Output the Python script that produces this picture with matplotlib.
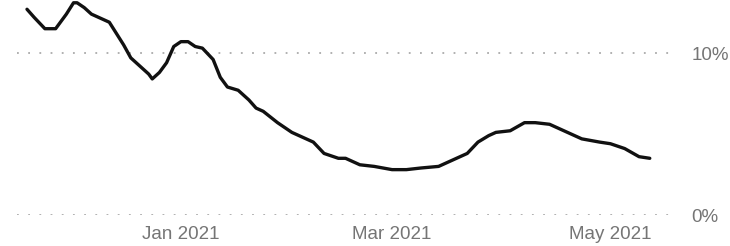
import numpy as np
import pandas as pd
import matplotlib
matplotlib.use("Agg")
import matplotlib.pyplot as plt
import matplotlib.dates as mdates
from matplotlib.ticker import FuncFormatter

# values (share in %)
dates = pd.to_datetime([
    "2020-11-19", "2020-11-21", "2020-11-24", "2020-11-27", "2020-11-30",
    "2020-12-02", "2020-12-03", "2020-12-05", "2020-12-07", "2020-12-09",
    "2020-12-12", "2020-12-14", "2020-12-16", "2020-12-18", "2020-12-20",
    "2020-12-23", "2020-12-24", "2020-12-26", "2020-12-28", "2020-12-30",
    "2021-01-01", "2021-01-03", "2021-01-05", "2021-01-07", "2021-01-10",
    "2021-01-12", "2021-01-14", "2021-01-17", "2021-01-20", "2021-01-22",
    "2021-01-24", "2021-01-28", "2021-02-01", "2021-02-04", "2021-02-07",
    "2021-02-10", "2021-02-14", "2021-02-16", "2021-02-20", "2021-02-24",
    "2021-03-01", "2021-03-05", "2021-03-09", "2021-03-14", "2021-03-17",
    "2021-03-22", "2021-03-25", "2021-03-28", "2021-03-30", "2021-04-03",
    "2021-04-07", "2021-04-10", "2021-04-14", "2021-04-16", "2021-04-19",
    "2021-04-23", "2021-04-28", "2021-05-01", "2021-05-05", "2021-05-09",
    "2021-05-12",
])
values = [
    12.7, 12.2, 11.5, 11.5, 12.4,
    13.1, 13.1, 12.8, 12.4, 12.2,
    11.9, 11.2, 10.5, 9.7, 9.3,
    8.7, 8.4, 8.8, 9.4, 10.4,
    10.7, 10.7, 10.4, 10.3, 9.6,
    8.5, 7.9, 7.7, 7.1, 6.6,
    6.4, 5.7, 5.1, 4.8, 4.5,
    3.8, 3.5, 3.5, 3.1, 3.0,
    2.8, 2.8, 2.9, 3.0, 3.3,
    3.8, 4.5, 4.9, 5.1, 5.2,
    5.7, 5.7, 5.6, 5.4, 5.1,
    4.7, 4.5, 4.4, 4.1, 3.6,
    3.5,
]

y_ticks = [0, 10]
x_ticks = pd.to_datetime(["2021-01-01", "2021-03-01", "2021-05-01"])
x_tick_labels = ["Jan 2021", "Mar 2021", "May 2021"]

fig = plt.figure(figsize=(7.3, 2.46), dpi=100)
ax = fig.add_axes([17 / 730, 31 / 246, 655 / 730, 215 / 246])

ax.plot(dates, values, color="#111111", linewidth=2.4,
        solid_joinstyle="round", solid_capstyle="round", clip_on=False, zorder=3)

ax.set_xlim(pd.Timestamp("2020-11-16 05:00"), pd.Timestamp("2021-05-18 05:00"))
ax.set_ylim(0, 215 / 16.2)

ax.set_yticks(y_ticks)
ax.yaxis.set_major_formatter(FuncFormatter(lambda v, p: f"{v:.0f}%"))
ax.yaxis.tick_right()
ax.set_xticks(x_ticks)
ax.set_xticklabels(x_tick_labels)

for v in y_ticks:
    ax.axhline(v, color="#aaaaaa", linewidth=1.3, linestyle=(0, (1, 5.2)), zorder=1)

for s in ax.spines.values():
    s.set_visible(False)
ax.tick_params(axis="both", length=0, labelcolor="#757575", labelsize=13.5)
ax.tick_params(axis="y", pad=14)
ax.tick_params(axis="x", pad=8)
for lab in ax.get_xticklabels() + ax.get_yticklabels():
    lab.set_family(["Liberation Sans", "DejaVu Sans"])

fig.savefig("out.png", dpi=100)
